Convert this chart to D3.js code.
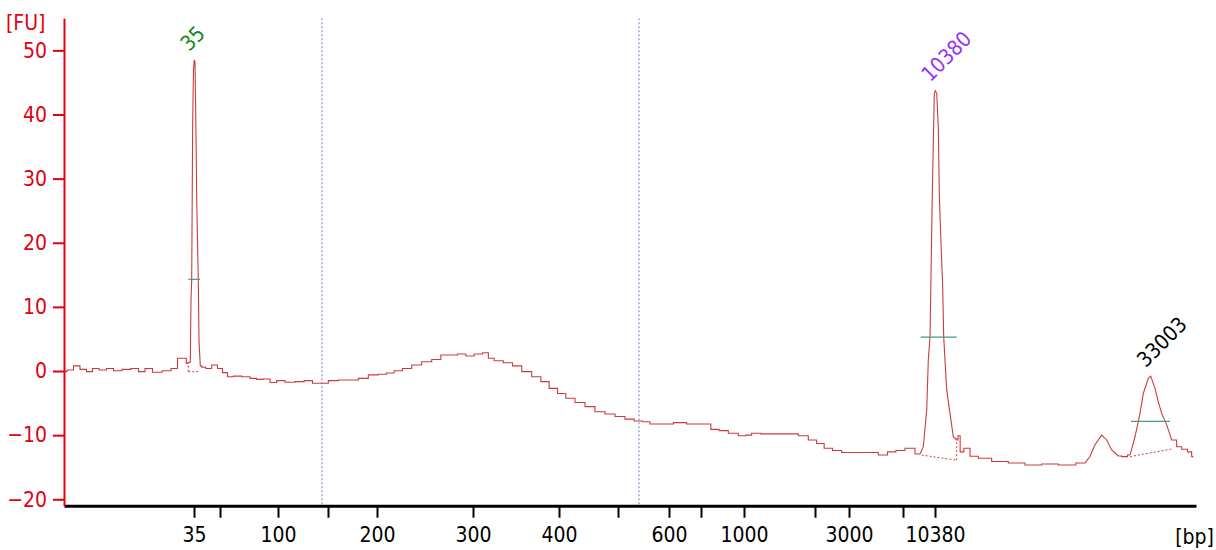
<!DOCTYPE html>
<html>
<head>
<meta charset="utf-8">
<script src="https://cdn.jsdelivr.net/npm/d3@7"></script>
<style>
  body { margin: 0; background: #fff; }
  svg { display: block; font-family: "DejaVu Sans", "Liberation Sans", sans-serif; font-stretch: condensed; }
</style>
</head>
<body>
<svg id="chart" width="1216" height="550"></svg>
<script>
// migration time (arbitrary units) and fluorescence [FU]
var traceTime = [0.0, 0.6, 1.3, 1.9, 2.6, 3.1, 3.9, 4.6, 5.3, 6.3, 7.1, 7.8, 8.4, 9.3, 10.3, 11.1, 11.6, 12.1, 12.35,
  12.63, 12.7, 12.77, 12.87, 12.95, 13.03, 13.1, 13.22, 13.27, 13.43, 13.5, 13.63, 13.93, 14.43, 15.1, 15.6, 16.1, 16.6,
  17.27, 18.27, 18.93, 19.6, 20.27, 20.93, 21.6, 22.6, 23.6, 24.43, 25.27, 25.93, 26.93, 27.93, 28.93, 29.93, 30.93,
  31.93, 32.6, 33.43, 34.27, 35.27, 36.27, 37.27, 38.1, 38.93, 39.77, 40.6, 41.43, 42.27, 42.6, 43.43, 44.43, 45.27,
  46.27, 47.27, 48.1, 48.93, 49.77, 50.6, 51.6, 52.6, 53.6, 54.6, 55.6, 56.6, 57.43, 58.27, 58.93, 60.27, 61.6, 62.93,
  64.27, 65.1, 65.93, 66.93, 67.93, 68.43, 69.1, 70.27, 71.6, 72.93, 73.93, 74.93, 75.6, 76.43, 77.27, 78.27, 79.6,
  80.93, 81.93, 82.77, 83.6, 84.6, 85.6, 85.93, 86.27, 86.43, 86.6, 86.7, 86.83, 86.93, 87.03, 87.13, 87.27, 87.43,
  87.53, 87.7, 87.87, 87.97, 88.1, 88.27, 88.6, 88.93, 89.27, 89.53, 89.7, 90.27, 90.93, 91.93, 93.6, 95.27, 96.93,
  98.6, 100.27, 102.1, 102.6, 103.1, 103.77, 104.27, 104.77, 105.43, 106.1, 106.6, 107.1, 107.6, 107.93, 108.43,
  108.67, 109.1, 109.43, 109.77, 110.27, 110.77, 111.1, 111.43, 112.1, 112.6, 112.93];
var traceFU = [-0.1, 0.15, 0.8, 0.25, -0.1, 0.4, 0.15, 0.4, 0.05, 0.25, 0.4, -0.1, 0.4, -0.2, 0.05, 0.4, 2.0, 2.0, 1.2,
  1.4, 11, 14.2, 39, 47, 48.5, 48.2, 34.5, 26.7, 14.2, 4.8, 0.8, 0.6, 0.4, 0.95, 0.4, -0.25, -0.9,
  -0.8, -0.9, -1.15, -1.3, -1.25, -1.8, -1.5, -1.75, -1.65, -1.5, -1.9, -1.9, -1.5, -1.4, -1.4, -1.15, -0.6,
  -0.5, -0.3, 0.05, 0.4, 0.95, 1.45, 1.8, 2.5, 2.5, 2.65, 2.35, 2.65, 2.85, 2.0, 1.6, 1.3, 0.8,
  -0.1, -0.9, -1.65, -2.7, -3.5, -4.25, -4.9, -5.55, -6.35, -6.7, -7.1, -7.5, -7.8, -7.9, -8.25, -8.25, -8.05, -8.25,
  -8.25, -9.1, -9.3, -9.7, -10.1, -10.0, -9.7, -9.8, -9.8, -9.8, -10.1, -10.75, -11.3, -12.05, -12.4, -12.7, -12.7,
  -12.7, -13.1, -12.6, -12.4, -12.05, -12.95, -11.8, -6.1, 1.7, 5.35, 14.7, 27.7, 35.5, 43.3, 43.7, 43.3, 38.1,
  27.7, 19.9, 13.15, 5.35, 1.7, -2.95, -6.6, -10.25, -10.75, -10.1, -12.6, -12.05, -13.3, -13.6, -14.1, -14.35, -14.65,
  -14.5, -14.65, -14.35, -13.3, -11.5, -10.0, -10.75, -12.3, -13.25, -13.35, -13.1, -10.25, -6.6, -3.5, -1.15,
  -0.8, -2.7, -4.8, -6.6, -8.4, -10.75, -10.75, -11.8, -12.2, -12.6, -13.35];

// stretches of the trace drawn as straight slopes (peak flanks), the rest is drawn stepwise
var slopeStart = [12.35, 85.6, 102.1, 106.6];
var slopeEnd = [13.63, 89.27, 105.43, 111.1];

// size axis: migration time of each tick and its bp label
var tickTimes = [13.0, 15.6, 21.4, 26.4, 31.3, 40.9, 49.5, 55.4, 60.5, 63.7, 68.0, 75.1, 78.5, 83.9, 87.1];
var tickLabels = ["35", "", "100", "", "200", "300", "400", "", "600", "", "1000", "", "3000", "", "10380"];
var fuTicks = [-20, -10, 0, 10, 20, 30, 40, 50];

// region borders
var regionTimes = [25.8, 57.5];

// called peaks
var peakNames = ["35", "10380", "33003"];
var peakTime = [13.03, 87.13, 108.67];
var peakFU = [48.5, 43.7, -0.8];
var peakColors = ["#118811", "#9933ee", "#000000"];
// half height marker: FU level and start/end time
var halfFU = [14.3, 5.3, -7.85];
var halfStart = [12.43, 85.67, 106.7];
var halfEnd = [13.6, 89.27, 110.6];
// peak baselines: start/end time and FU
var baseStart = [12.43, 85.77, 106.6];
var baseEnd = [13.63, 89.27, 110.8];
var baseStartFU = [-0.1, -13.1, -13.35];
var baseEndFU = [-0.1, -13.9, -12.15];

var svg = d3.select("#chart");

var x = d3.scaleLinear().domain([0, 113.2]).range([64, 1196]);
var y = d3.scaleLinear().domain([-21, 55]).range([505.7, 18.3]);

// region borders
svg.selectAll(".region")
  .data(regionTimes)
  .enter().append("line")
  .attr("x1", function(d) { return x(d); })
  .attr("x2", function(d) { return x(d); })
  .attr("y1", y(55))
  .attr("y2", y(-21))
  .attr("stroke", "#7a7ac8")
  .attr("stroke-width", 1)
  .attr("stroke-dasharray", "2,2");

// baselines under peaks
peakNames.forEach(function(name, i) {
  svg.append("line")
    .attr("x1", x(baseStart[i])).attr("y1", y(baseStartFU[i]))
    .attr("x2", x(baseEnd[i])).attr("y2", y(baseEndFU[i]))
    .attr("stroke", "#d04040").attr("stroke-width", 1)
    .attr("stroke-dasharray", "2,2");
});
// vertical drops of baselines
svg.append("line")
  .attr("x1", x(baseStart[0])).attr("x2", x(baseStart[0]))
  .attr("y1", y(baseStartFU[0])).attr("y2", y(1.4))
  .attr("stroke", "#d04040").attr("stroke-dasharray", "2,2");
svg.append("line")
  .attr("x1", x(baseEnd[1])).attr("x2", x(baseEnd[1]))
  .attr("y1", y(baseEndFU[1])).attr("y2", y(-10.4))
  .attr("stroke", "#d04040").attr("stroke-dasharray", "2,2");

// the trace: split in pieces, each piece shares its end point with the next
var points = traceTime.map(function(t, i) { return [t, traceFU[i]]; });
function inSlope(t) {
  for (var k = 0; k < slopeStart.length; k++) {
    if (t >= slopeStart[k] && t < slopeEnd[k]) return true;
  }
  return false;
}
var pieces = [];
var cur = [points[0]], curSlope = inSlope(points[0][0]);
for (var i = 1; i < points.length; i++) {
  cur.push(points[i]);
  var s = inSlope(points[i][0]);
  if (s !== curSlope || i === points.length - 1) {
    pieces.push({ pts: cur, slope: curSlope });
    cur = [points[i]];
    curSlope = s;
  }
}

var stepLine = d3.line()
  .x(function(d) { return x(d[0]); })
  .y(function(d) { return y(d[1]); })
  .curve(d3.curveStep);
var slopeLine = d3.line()
  .x(function(d) { return x(d[0]); })
  .y(function(d) { return y(d[1]); });

svg.selectAll(".trace")
  .data(pieces)
  .enter().append("path")
  .attr("class", "trace")
  .attr("d", function(d) { return d.slope ? slopeLine(d.pts) : stepLine(d.pts); })
  .attr("fill", "none")
  .attr("stroke", "#cc3b3b")
  .attr("stroke-width", 1.1);

// half height markers
peakNames.forEach(function(name, i) {
  svg.append("line")
    .attr("x1", x(halfStart[i])).attr("x2", x(halfEnd[i]))
    .attr("y1", y(halfFU[i])).attr("y2", y(halfFU[i]))
    .attr("stroke", "#4a9488").attr("stroke-width", 1.2);
});

// peak labels
peakNames.forEach(function(name, i) {
  var px = x(peakTime[i]) - 5, py = y(peakFU[i]) - 8;
  svg.append("text")
    .attr("transform", "translate(" + px + "," + py + ") rotate(-45)")
    .attr("fill", peakColors[i])
    .attr("font-size", 21)
    .text(name);
});

// axes
var xAxis = d3.axisBottom(x)
  .tickValues(tickTimes)
  .tickFormat(function(d, i) { return tickLabels[i]; })
  .tickSize(12)
  .tickSizeOuter(0)
  .tickPadding(9);

var gx = svg.append("g")
  .attr("transform", "translate(0," + y(-21) + ")")
  .call(xAxis);
gx.select(".domain").attr("stroke", "#000").attr("stroke-width", 3);
gx.selectAll(".tick line").attr("stroke", "#000").attr("stroke-width", 2);
gx.selectAll(".tick text").attr("fill", "#000").attr("font-size", 21)
  .attr("font-family", "DejaVu Sans, Liberation Sans, sans-serif");

var yAxis = d3.axisLeft(y)
  .tickValues(fuTicks)
  .tickSize(11)
  .tickSizeOuter(0)
  .tickPadding(6);

var gy = svg.append("g")
  .attr("transform", "translate(" + x(0) + ",0)")
  .call(yAxis);
gy.select(".domain").attr("stroke", "#e3000f").attr("stroke-width", 2);
gy.selectAll(".tick line").attr("stroke", "#e3000f").attr("stroke-width", 2);
gy.selectAll(".tick text").attr("fill", "#e3000f").attr("font-size", 21)
  .attr("font-family", "DejaVu Sans, Liberation Sans, sans-serif");

// unit labels
svg.append("text")
  .attr("x", 6).attr("y", 30)
  .attr("fill", "#e3000f").attr("font-size", 21)
  .text("[FU]");
svg.append("text")
  .attr("x", 1214).attr("y", 544)
  .attr("text-anchor", "end")
  .attr("fill", "#000").attr("font-size", 21)
  .text("[bp]");
</script>
</body>
</html>
